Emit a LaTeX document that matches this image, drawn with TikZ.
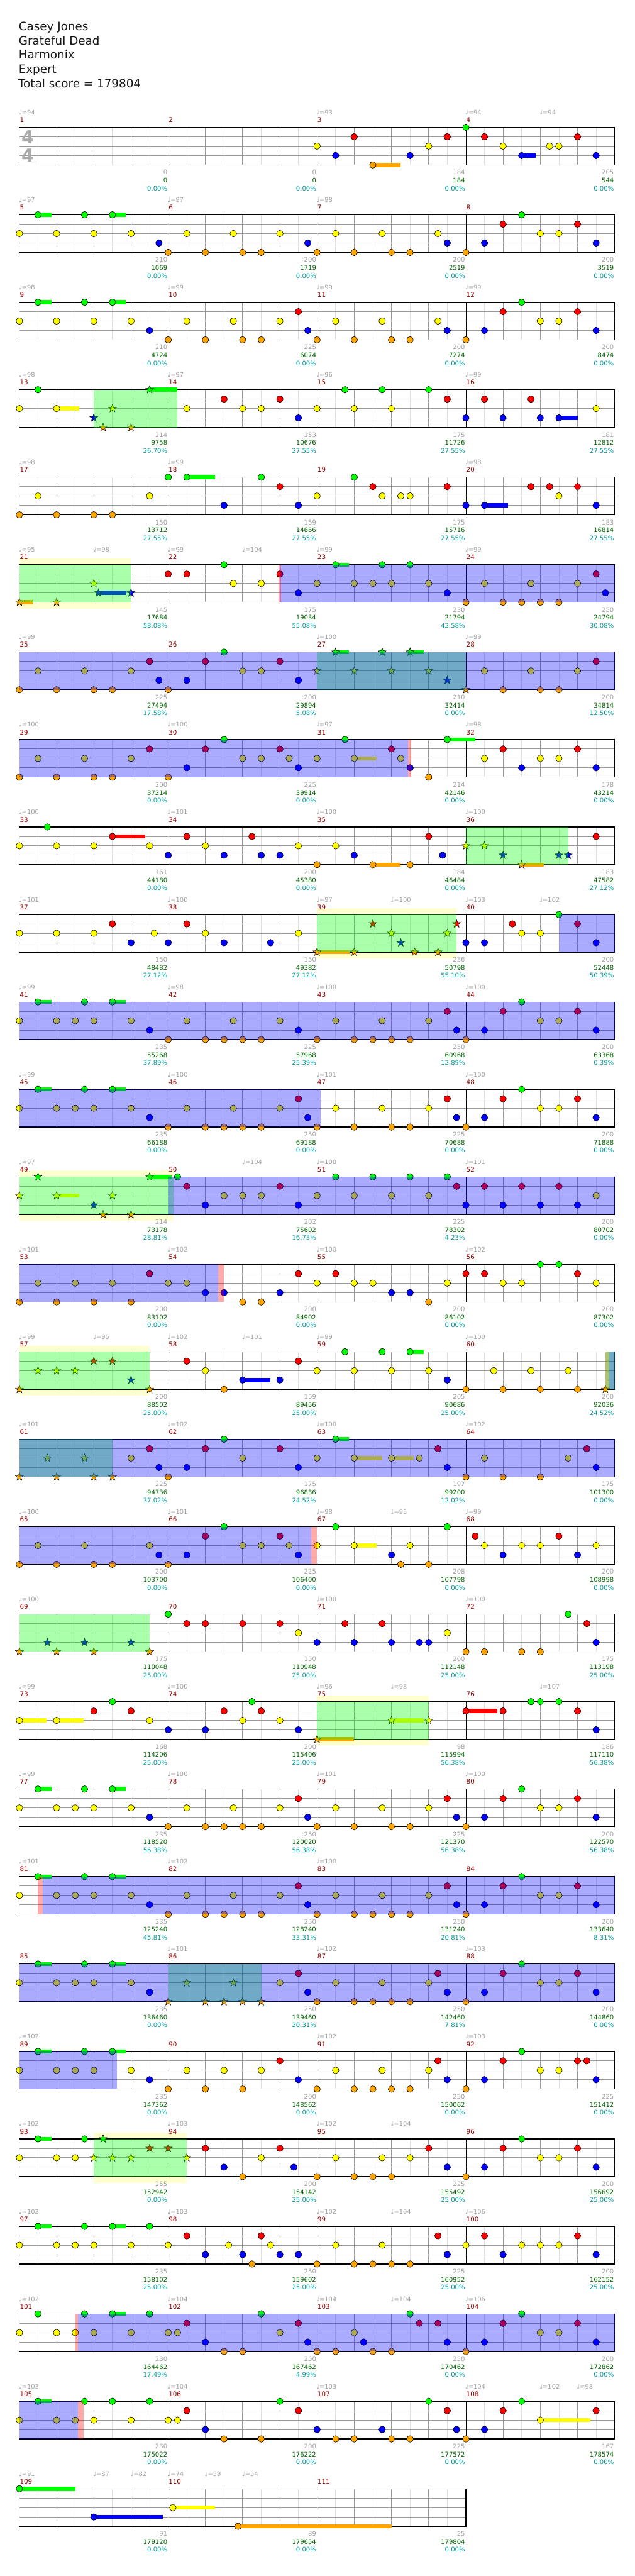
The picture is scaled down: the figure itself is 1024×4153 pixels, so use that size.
\documentclass[tikz,border=0pt]{standalone}
\usepackage{fontspec}
\setmainfont{DejaVu Sans}
\definecolor{Ng}{RGB}{0,255,0}
\definecolor{Nr}{RGB}{255,0,0}
\definecolor{Ny}{RGB}{255,255,0}
\definecolor{Nb}{RGB}{0,0,255}
\definecolor{No}{RGB}{255,165,0}
\definecolor{mred}{RGB}{150,0,0}
\definecolor{tgray}{RGB}{160,160,160}
\definecolor{sgreen}{RGB}{0,102,0}
\definecolor{pteal}{RGB}{0,153,153}
\definecolor{ybg}{RGB}{255,255,208}
\definecolor{gline}{RGB}{153,153,153}
\definecolor{lline}{RGB}{222,222,222}
\definecolor{tsig}{RGB}{170,170,170}
\newcounter{nd}
\def\lyg{0}\def\lyr{15.17}\def\lyy{30.33}\def\lyb{45.5}\def\lyo{60.67}
\tikzset{
 mnum/.style={anchor=base west,inner sep=0pt,text=mred,font=\fontsize{10.5}{12}\selectfont},
 tmp/.style={anchor=base west,inner sep=0pt,text=tgray,font=\fontsize{10}{12}\selectfont},
 lab/.style={anchor=base east,inner sep=0pt,font=\fontsize{10.2}{12}\selectfont},
 hdr/.style={anchor=base west,inner sep=0pt,font=\fontsize{18.6}{22}\selectfont,text=black!90},
 tsg/.style={inner sep=0pt,text=tsig,font=\fontsize{29}{30}\selectfont\bfseries},
 notedot/.style={draw=black,line width=0.6pt},
 stardot/.style={draw=black,line width=0.5pt},
 lightline/.style={lline,line width=0.8pt},
 beatline/.style={gline,line width=0.9pt},
}
\newcommand\staff[1]{%
 \fill[white] (0,0) rectangle ({#1*240},60.67);
 \pgfmathtruncatemacro\mm{#1-1}%
 \foreach \m in {0,...,\mm}{%
   \foreach \h in {30,90,150,210}{\draw[lightline] ({\m*240+\h},0) -- ({\m*240+\h},60.67);}
   \foreach \h in {60,120,180}{\draw[beatline] ({\m*240+\h},0) -- ({\m*240+\h},60.67);}
 }
 \foreach \yy in {15.17,30.33,45.5}{\draw[beatline] (0,\yy) -- ({#1*240},\yy);}
 \foreach \m in {1,...,\mm}{\draw[black,line width=0.9pt] ({\m*240},0) -- ({\m*240},60.67);}
 \draw[black,line width=1.2pt] (0,0) rectangle ({#1*240},60.67);
}
\newcommand\NL[2]{\foreach \e in {#2}{\filldraw[notedot,fill=N#1] ({\e*30},{\csname ly#1\endcsname}) circle (5.3);}}
\newcommand\SU[3]{\fill[N#2] ({#1*30},{\csname ly#2\endcsname-3.3}) rectangle ({(#1+#3)*30},{\csname ly#2\endcsname+3.3});}
\newcommand\SL[2]{\foreach \e in {#2}{\filldraw[stardot,fill=N#1,shift={({\e*30},{\csname ly#1\endcsname})}] (-90:6.8) -- (-54:2.8) -- (-18:6.8) -- (18:2.8) -- (54:6.8) -- (90:2.8) -- (126:6.8) -- (162:2.8) -- (198:6.8) -- (234:2.8) -- cycle;}}
\newcommand\GR[2]{\fill[Ng,fill opacity=0.333] ({#1*30},0) rectangle ({#2*30},60.67);}
\newcommand\BR[2]{\fill[Nb,fill opacity=0.333] ({#1*30},0) rectangle ({#2*30},60.67);}
\newcommand\PK[2]{\fill[Nr,fill opacity=0.333] ({#1*30},0) rectangle ({#2*30},60.67);}
\newcommand\YB[2]{\fill[ybg] ({#1*30},-10) rectangle ({#2*30},70.67);}
\newcommand\MN[1]{\foreach \mq [count=\ii from 0] in {#1}{\stepcounter{nd}\node[mnum,name=n\arabic{nd}] at ({\ii*240+0.5},-8) {\mq};}}
\newcommand\TP[1]{\foreach \eq/\tq in {#1}{\stepcounter{nd}\node[tmp,name=n\arabic{nd}] at ({\eq*30-1},-20.3) {♩=\tq};}}
\newcommand\BL[1]{\foreach \la/\lb/\lc [count=\ii] in {#1}{%
 \stepcounter{nd}\node[lab,text=tgray,name=n\arabic{nd}] at ({\ii*240-1.2},76.4) {\la};
 \stepcounter{nd}\node[lab,text=sgreen,name=n\arabic{nd}] at ({\ii*240-1.2},89.4) {\lb};
 \stepcounter{nd}\node[lab,text=pteal,name=n\arabic{nd}] at ({\ii*240-1.2},102) {\lc\%};}}
\begin{document}
\begin{tikzpicture}[x=1pt,y=-1pt]
\useasboundingbox (0,0) rectangle (1024,4153);
\node[hdr] (h1) at (30,49) {Casey Jones};
\node[hdr] (h2) at (30,72.3) {Grateful Dead};
\node[hdr] (h3) at (30,95.3) {Harmonix};
\node[hdr] (h4) at (30,118.3) {Expert};
\node[hdr] (h5) at (29.3,141.3) {Total score = 179804};
% row 1
\begin{scope}[shift={(31.3,205.3)}]
\staff{4}
\node[tsg] (ts1) at (13.5,15.6) {4};
\node[tsg] (ts2) at (13.5,45.6) {4};
\SU{19}{o}{1.5}\SU{27}{b}{0.75}
\NL{y}{16,22,26,28.5,29}\NL{b}{17,21,27,31}\NL{r}{18,23,25,30}\NL{o}{19}\NL{g}{24}
\MN{1,2,3,4}\TP{0/94,16/93,24/94,28/94}
\BL{0/0/0.00,0/0/0.00,184/184/0.00,205/544/0.00}
\end{scope}
% row 2
\begin{scope}[shift={(31.3,346.3)}]
\staff{4}
\SU{1}{g}{0.72}\SU{5}{g}{0.72}
\NL{g}{1,3.5,5,27}\NL{y}{0,2,4,6,9,11.5,14,17,19.5,22.5,28,29}\NL{b}{7.5,15.5,23,25,31}
\NL{o}{8,10,12,13,16,18,20,21,24}\NL{r}{26,30}
\MN{5,6,7,8}\TP{0/97,8/97,16/98}
\BL{210/1069/0.00,200/1719/0.00,200/2519/0.00,200/3519/0.00}
\end{scope}
% row 3
\begin{scope}[shift={(31.3,487.3)}]
\staff{4}
\SU{1}{g}{0.72}\SU{5}{g}{0.72}
\NL{g}{1,3.5,5,27}\NL{y}{0,2,4,6,9,11.5,14,17,19.5,22.5,28,29}\NL{b}{7,15.5,23,25,31}
\NL{o}{8,10,12,13,16,18,20,21,24}\NL{r}{15,26,30}
\MN{9,10,11,12}\TP{0/98,8/99,16/99,24/99}
\BL{210/4724/0.00,225/6074/0.00,200/7274/0.00,200/8474/0.00}
\end{scope}
% row 4
\begin{scope}[shift={(31.3,628.3)}]
\staff{4}
\SU{2}{y}{1.2}\SU{7}{g}{1.5}\SU{29}{b}{1}
\NL{y}{0,2,9,12,13,16,18,20,31}\NL{g}{1,17.5,19.5,22}\NL{r}{11,14,23,25,27.5}\NL{b}{15,24,26,28,29}
\SL{b}{4}\SL{o}{4.5,6}\SL{y}{5}\SL{g}{7}
\GR{4}{8.5}
\MN{13,14,15,16}\TP{0/98,8/97,16/96,24/99}
\BL{214/9758/26.70,153/10676/27.55,175/11726/27.55,181/12812/27.55}
\end{scope}
% row 5
\begin{scope}[shift={(31.3,769.3)}]
\staff{4}
\SU{9}{g}{1.5}\SU{25}{b}{1.25}
\NL{o}{0,2,4,5}\NL{y}{1,7,16,19.5,20.5,21,29}\NL{g}{8,9,13,18}\NL{b}{11,15,24,25,31}\NL{r}{14,19,23,27.5,28.5,30}
\MN{17,18,19,20}\TP{0/98,8/99,24/98}
\BL{150/13712/27.55,159/14666/27.55,175/15716/27.55,183/16814/27.55}
\end{scope}
% row 6
\begin{scope}[shift={(31.3,910.3)}]
\YB{0}{6}
\staff{4}
\SU{0}{o}{0.72}\SU{4.25}{b}{1.5}\SU{17}{g}{0.72}
\NL{r}{8,9,14,31}\NL{g}{11,17,19.5,21}\NL{y}{11.5,13,16,18,19,20,22,25,27.5,30}\NL{b}{15,23,31.5}\NL{o}{24,26,27,28,29}
\SL{o}{0,2}\SL{y}{4}\SL{b}{4.25,6}
\GR{0}{6}\BR{14}{32}\PK{13.93}{14.07}
\MN{21,22,23,24}\TP{0/95,4/98,8/99,12/104,16/99,24/99}
\BL{145/17684/58.08,175/19034/55.08,230/21794/42.58,250/24794/30.08}
\end{scope}
% row 7
\begin{scope}[shift={(31.3,1051.3)}]
\staff{4}
\SU{17}{g}{0.72}\SU{21}{g}{0.72}
\NL{o}{0,2,4,5,8,26,28,29}\NL{y}{1,3.5,6,12,13,25,27.5,30}\NL{r}{7,10,14,31}\NL{b}{7.5,9,15}\NL{g}{11}
\SL{y}{16,18,20,22}\SL{g}{17,19.5,21}\SL{b}{23}\SL{o}{24}
\GR{16}{24}\BR{0}{32}
\MN{25,26,27,28}\TP{0/99,16/100,24/99}
\BL{225/27494/17.58,200/29894/5.08,210/32414/0.00,200/34814/12.50}
\end{scope}
% row 8
\begin{scope}[shift={(31.3,1192.3)}]
\staff{4}
\SU{18}{y}{1.2}\SU{23}{g}{1.5}
\NL{o}{0,2,4,5,8,22}\NL{y}{1,3.5,6,12,13,14.5,16,18,20.5,25,28,29}\NL{r}{7,10,14,20,26,30}\NL{g}{11,17.5,23}\NL{b}{9,15,21,27,31}
\BR{0}{20.9}\PK{20.9}{21.05}
\MN{29,30,31,32}\TP{0/100,8/100,16/97,24/98}
\BL{200/37214/0.00,225/39914/0.00,214/42146/0.00,178/43214/0.00}
\end{scope}
% row 9
\begin{scope}[shift={(31.3,1333.3)}]
\staff{4}
\SU{5}{r}{1.75}\SU{19}{o}{1.5}\SU{27}{o}{1.2}
\NL{y}{0,2,4,7,10,15,17}\NL{g}{1.5}\NL{r}{5,9,12.5,22,31}\NL{b}{8,11,13,14,18,22.75}\NL{o}{16,19,21}
\SL{y}{24,25}\SL{b}{26,29,29.5}\SL{o}{27}
\GR{24}{29.5}
\MN{33,34,35,36}\TP{0/100,8/101,16/100,24/100}
\BL{161/44180/0.00,200/45380/0.00,184/46484/0.00,183/47582/27.12}
\end{scope}
% row 10
\begin{scope}[shift={(31.3,1474.3)}]
\YB{16}{23.5}
\staff{4}
\SU{16}{o}{1.75}
\NL{y}{0,2,4,7.25,10,15,27,28}\NL{r}{5,9,26.5,30}\NL{b}{6,8,11,13.5,24,25,31}\NL{g}{29}
\SL{o}{16,18,21.25,22.5}\SL{r}{19,23.5}\SL{y}{20,23}\SL{b}{20.5}
\GR{16}{23.5}\BR{29}{32}
\MN{37,38,39,40}\TP{0/101,8/100,16/97,20/100,24/103,28/102}
\BL{150/48482/27.12,150/49382/27.12,236/50798/55.10,200/52448/50.39}
\end{scope}
% row 11
\begin{scope}[shift={(31.3,1615.3)}]
\staff{4}
\SU{1}{g}{0.72}\SU{5}{g}{0.72}
\NL{y}{0,2,3,4,6,9,11.5,14,17,19.5,22,28,29}\NL{g}{1,3.5,5,27}\NL{b}{7,15,23.5,25,31}
\NL{o}{8,10,11,12,13,16,18,19,20,21,24}\NL{r}{23,26,30}
\BR{0}{32}
\MN{41,42,43,44}\TP{0/99,8/98,16/100,24/100}
\BL{235/55268/37.89,225/57968/25.39,250/60968/12.89,200/63368/0.39}
\end{scope}
% row 12
\begin{scope}[shift={(31.3,1756.3)}]
\staff{4}
\SU{1}{g}{0.72}\SU{5}{g}{0.72}
\NL{y}{0,2,3,4,6,9,11.5,14,17,19.5,22,28,29}\NL{g}{1,3.5,5,27}\NL{b}{7,15.5,23.5,25,31}
\NL{o}{8,10,11,12,13,16,18,20,21,24}\NL{r}{15,23,26,30}
\BR{0}{16.2}
\MN{45,46,47,48}\TP{0/99,8/100,16/101,24/100}
\BL{235/66188/0.00,250/69188/0.00,225/70688/0.00,200/71888/0.00}
\end{scope}
% row 13
\begin{scope}[shift={(31.3,1897.3)}]
\YB{0}{8.3}
\staff{4}
\SU{2}{y}{1.2}\SU{7}{g}{1.2}
\NL{g}{8.5,17,19,21,23}\NL{r}{9,14,23.5,25,27,29}\NL{b}{10,15,24,26,28,30}\NL{y}{11,12,13,16,18,20,22,31}
\SL{y}{0,2,5}\SL{g}{1,7}\SL{b}{4}\SL{o}{4.5,6}
\GR{0}{8.3}\BR{8}{32}
\MN{49,50,51,52}\TP{0/97,12/104,16/100,24/101}
\BL{214/73178/28.81,202/75602/16.73,225/78302/4.23,200/80702/0.00}
\end{scope}
% row 14
\begin{scope}[shift={(31.3,2038.3)}]
\staff{4}
\NL{o}{0,2,4,6,12,13,22}\NL{y}{1,3,5,8,9,16,18,19,23,26,27,31}\NL{r}{7,15,17,24,25,30}\NL{b}{10,11,14,20,21}\NL{g}{28,29}
\BR{0}{10.7}\PK{10.7}{11}
\MN{53,54,55,56}\TP{0/101,8/102,16/100,24/102}
\BL{200/83102/0.00,200/84902/0.00,200/86102/0.00,200/87302/0.00}
\end{scope}
% row 15
\begin{scope}[shift={(31.3,2179.3)}]
\YB{0}{7}
\staff{4}
\SU{12}{b}{1.5}\SU{21}{g}{0.72}
\NL{r}{9,15}\NL{y}{10,16,18,20,22,25.5,27.5,29.5}\NL{o}{11,24,26,28,30}\NL{b}{12,14,23}\NL{g}{17.5,19.5,21}
\SL{o}{0,7,31.5}\SL{y}{1,2,3}\SL{r}{4,5}\SL{b}{6}
\PK{31.5}{31.7}\GR{0}{7}\GR{31.5}{32}\BR{31.7}{32}
\MN{57,58,59,60}\TP{0/99,4/95,8/102,12/101,16/99,24/100}
\BL{200/88502/25.00,159/89456/25.00,205/90686/25.00,200/92036/24.52}
\end{scope}
% row 16
\begin{scope}[shift={(31.3,2320.3)}]
\staff{4}
\SU{17}{g}{0.72}\SU{18}{y}{1.5}\SU{20}{y}{1.2}
\NL{y}{6,12,16,18,20,21.5,25,29.5}\NL{r}{7,10,14,22.5,30.5}\NL{b}{7.5,9,15,23,31}\NL{o}{8,24,26,28}\NL{g}{11,17}
\SL{o}{0,2,4,5}\SL{y}{1.5,3.5}
\GR{0}{5}\BR{0}{32}
\MN{61,62,63,64}\TP{0/101,8/102,16/100,24/102}
\BL{225/94736/37.02,175/96836/24.52,197/99200/12.02,175/101300/0.00}
\end{scope}
% row 17
\begin{scope}[shift={(31.3,2461.3)}]
\staff{4}
\SU{18}{y}{1.2}
\NL{o}{0,2,4,5,8,20.5,22}\NL{y}{1,3.5,7,12,13,14.5,16,18,21,25,27,28,31}\NL{b}{7.5,9,15,20,26,30}\NL{r}{10,14,24.5,29}\NL{g}{11,17,23}
\BR{0}{15.7}\PK{15.7}{16}
\MN{65,66,67,68}\TP{0/100,8/101,16/98,20/95,24/99}
\BL{200/103700/0.00,225/106400/0.00,208/107798/0.00,200/108998/0.00}
\end{scope}
% row 18
\begin{scope}[shift={(31.3,2602.3)}]
\staff{4}
\NL{g}{8,29.5}\NL{r}{9,10,12,14,17.5,19.5,30.5}\NL{y}{15,23}\NL{b}{16,18,20,21.5,22,31}\NL{o}{24,25,27,28}
\SL{o}{0,2,4,7}\SL{b}{1.5,3.5,6}
\GR{0}{7}
\MN{69,70,71,72}\TP{0/100,16/100,24/100}
\BL{175/110048/25.00,150/110948/25.00,200/112148/25.00,175/113198/25.00}
\end{scope}
% row 19
\begin{scope}[shift={(31.3,2743.3)}]
\YB{16}{22}
\staff{4}
\SU{0}{y}{1.45}\SU{2}{y}{1.45}\SU{16}{o}{2}\SU{20}{y}{1.72}\SU{24}{r}{1.7}
\NL{y}{0,2,7,12,14}\NL{r}{4,6,11,13,24,26,30}\NL{g}{5,12.5,27.5,28,29}\NL{b}{8,10,15,31}
\SL{o}{16}\SL{y}{20,22}
\GR{16}{22}
\MN{73,74,75,76}\TP{0/99,8/100,16/96,20/98,28/107}
\BL{168/114206/25.00,200/115406/25.00,98/115994/56.38,186/117110/56.38}
\end{scope}
% row 20
\begin{scope}[shift={(31.3,2884.3)}]
\staff{4}
\SU{1}{g}{0.72}\SU{5}{g}{0.72}
\NL{y}{0,2,3,4,6,9,11.5,14,17,19.5,22,28,29}\NL{g}{1,3.5,5,27}\NL{b}{7,15.5,23.5,25,31}
\NL{o}{8,10,11,12,13,16,18,20,21,24}\NL{r}{15,23,26,30}
\MN{77,78,79,80}\TP{0/99,8/100,16/101,24/100}
\BL{235/118520/56.38,250/120020/56.38,225/121370/56.38,200/122570/56.38}
\end{scope}
% row 21
\begin{scope}[shift={(31.3,3025.3)}]
\staff{4}
\SU{1}{g}{0.72}\SU{5}{g}{0.72}
\NL{y}{0,2,3,4,6,9,11.5,14,17,19.5,22,28,29}\NL{g}{1,3.5,5,27}\NL{b}{7,15.5,23.5,25,31}
\NL{o}{8,10,11,12,13,16,18,19,20,21,24}\NL{r}{15,23,26,30}
\PK{1}{1.25}\BR{1.25}{32}
\MN{81,82,83,84}\TP{0/101,8/102,16/100}
\BL{235/125240/45.81,250/128240/33.31,250/131240/20.81,200/133640/8.31}
\end{scope}
% row 22
\begin{scope}[shift={(31.3,3166.3)}]
\staff{4}
\SU{1}{g}{0.72}\SU{5}{g}{0.72}
\NL{y}{0,2,3,4,6,14,17,19.5,22,28,29}\NL{g}{1,3.5,5,27}\NL{b}{7,15.5,23,25,31}
\NL{r}{15,22.5,26,30}\NL{o}{16,18,19,20,21,24}
\SL{o}{8,10,11,12,13}\SL{y}{9,11.5}
\GR{8}{13}\BR{0}{32}
\MN{85,86,87,88}\TP{8/101,16/102,24/103}
\BL{235/136460/0.00,250/139460/20.31,250/142460/7.81,200/144860/0.00}
\end{scope}
% row 23
\begin{scope}[shift={(31.3,3307.3)}]
\staff{4}
\SU{1}{g}{0.72}\SU{5}{g}{0.72}
\NL{y}{0,2,3,4,6,9,11,13,17,19.5,22,28,29}\NL{g}{1,3.5,5,27}\NL{b}{7,15,23,25,31}
\NL{o}{8,10,12,16,18,19,20,21,24}\NL{r}{14,22.5,26,30,30.5}
\BR{0}{5.25}
\MN{89,90,91,92}\TP{0/102,16/102,24/103}
\BL{235/147362/0.00,200/148562/0.00,250/150062/0.00,225/151412/0.00}
\end{scope}
% row 24
\begin{scope}[shift={(31.3,3448.3)}]
\YB{4}{9}
\staff{4}
\SU{1}{g}{0.72}
\NL{y}{0,2,3,13,17,19.5,21,28,29}\NL{g}{1,3.5,27}\NL{r}{10,14,22,26,30}\NL{b}{11,14.75,23,25,31}\NL{o}{12,16,18,19,20,24}
\SL{y}{4,5,6,9}\SL{g}{4.5}\SL{r}{7,8}
\GR{4}{9}
\MN{93,94,95,96}\TP{0/102,8/103,16/102,20/104}
\BL{255/152942/0.00,200/154142/25.00,225/155492/25.00,200/156692/25.00}
\end{scope}
% row 25
\begin{scope}[shift={(31.3,3589.3)}]
\staff{4}
\SU{1}{g}{0.72}\SU{5}{g}{0.72}
\NL{y}{0,2,3,4,6,8,11.25,13.5,17,19.5,24,27,28,29}\NL{g}{1,3.5,5,7}\NL{r}{9,13,22.5,25,30}
\NL{b}{10,12,14,15,23,26,31}\NL{o}{12.5,16,18,19,20,21}
\MN{97,98,99,100}\TP{0/102,8/103,16/102,20/104,24/106}
\BL{235/158102/25.00,250/159602/25.00,225/160952/25.00,200/162152/25.00}
\end{scope}
% row 26
\begin{scope}[shift={(31.3,3730.3)}]
\staff{4}
\SU{5}{g}{0.72}
\NL{y}{0,2,3,4,6,8,8.5,14,18,28,29}\NL{g}{1,3.5,5,7,13,21,27}\NL{r}{9,15,21.5,22.5,26,30}
\NL{b}{10,15.5,18.5,23,25,31}\NL{o}{11,12,16,17,19,20,24}
\PK{3}{3.15}\BR{3.15}{32}
\MN{101,102,103,104}\TP{0/102,8/104,16/104,20/104,24/106}
\BL{230/164462/17.49,250/167462/4.99,250/170462/0.00,200/172862/0.00}
\end{scope}
% row 27
\begin{scope}[shift={(31.3,3871.3)}]
\staff{4}
\SU{1}{g}{0.72}\SU{28}{y}{2.7}
\NL{y}{0,2,3,4,6,8,8.5,28}\NL{g}{1,3.5,5,7,14,22,27}\NL{r}{9,15,23,26,31}\NL{b}{10,16,19.5,23.5,25}\NL{o}{11,13,17,18,20,21,24}
\BR{0}{3.15}\PK{3.15}{3.45}
\MN{105,106,107,108}\TP{0/103,8/104,16/103,24/104,28/102,30/98}
\BL{230/175022/0.00,200/176222/0.00,225/177572/0.00,167/178574/0.00}
\end{scope}
% row 28
\begin{scope}[shift={(31.3,4012.3)}]
\staff{3}
\SU{0}{g}{3}\SU{4}{b}{3.7}\SU{8.25}{y}{2.25}\SU{11.75}{o}{8.25}
\NL{g}{0}\NL{b}{4}\NL{y}{8.25}\NL{o}{11.75}
\MN{109,110,111}\TP{0/91,4/87,6/82,8/74,10/59,12/54}
\BL{91/179120/0.00,89/179654/0.00,25/179804/0.00}
\end{scope}
\end{tikzpicture}
\end{document}
